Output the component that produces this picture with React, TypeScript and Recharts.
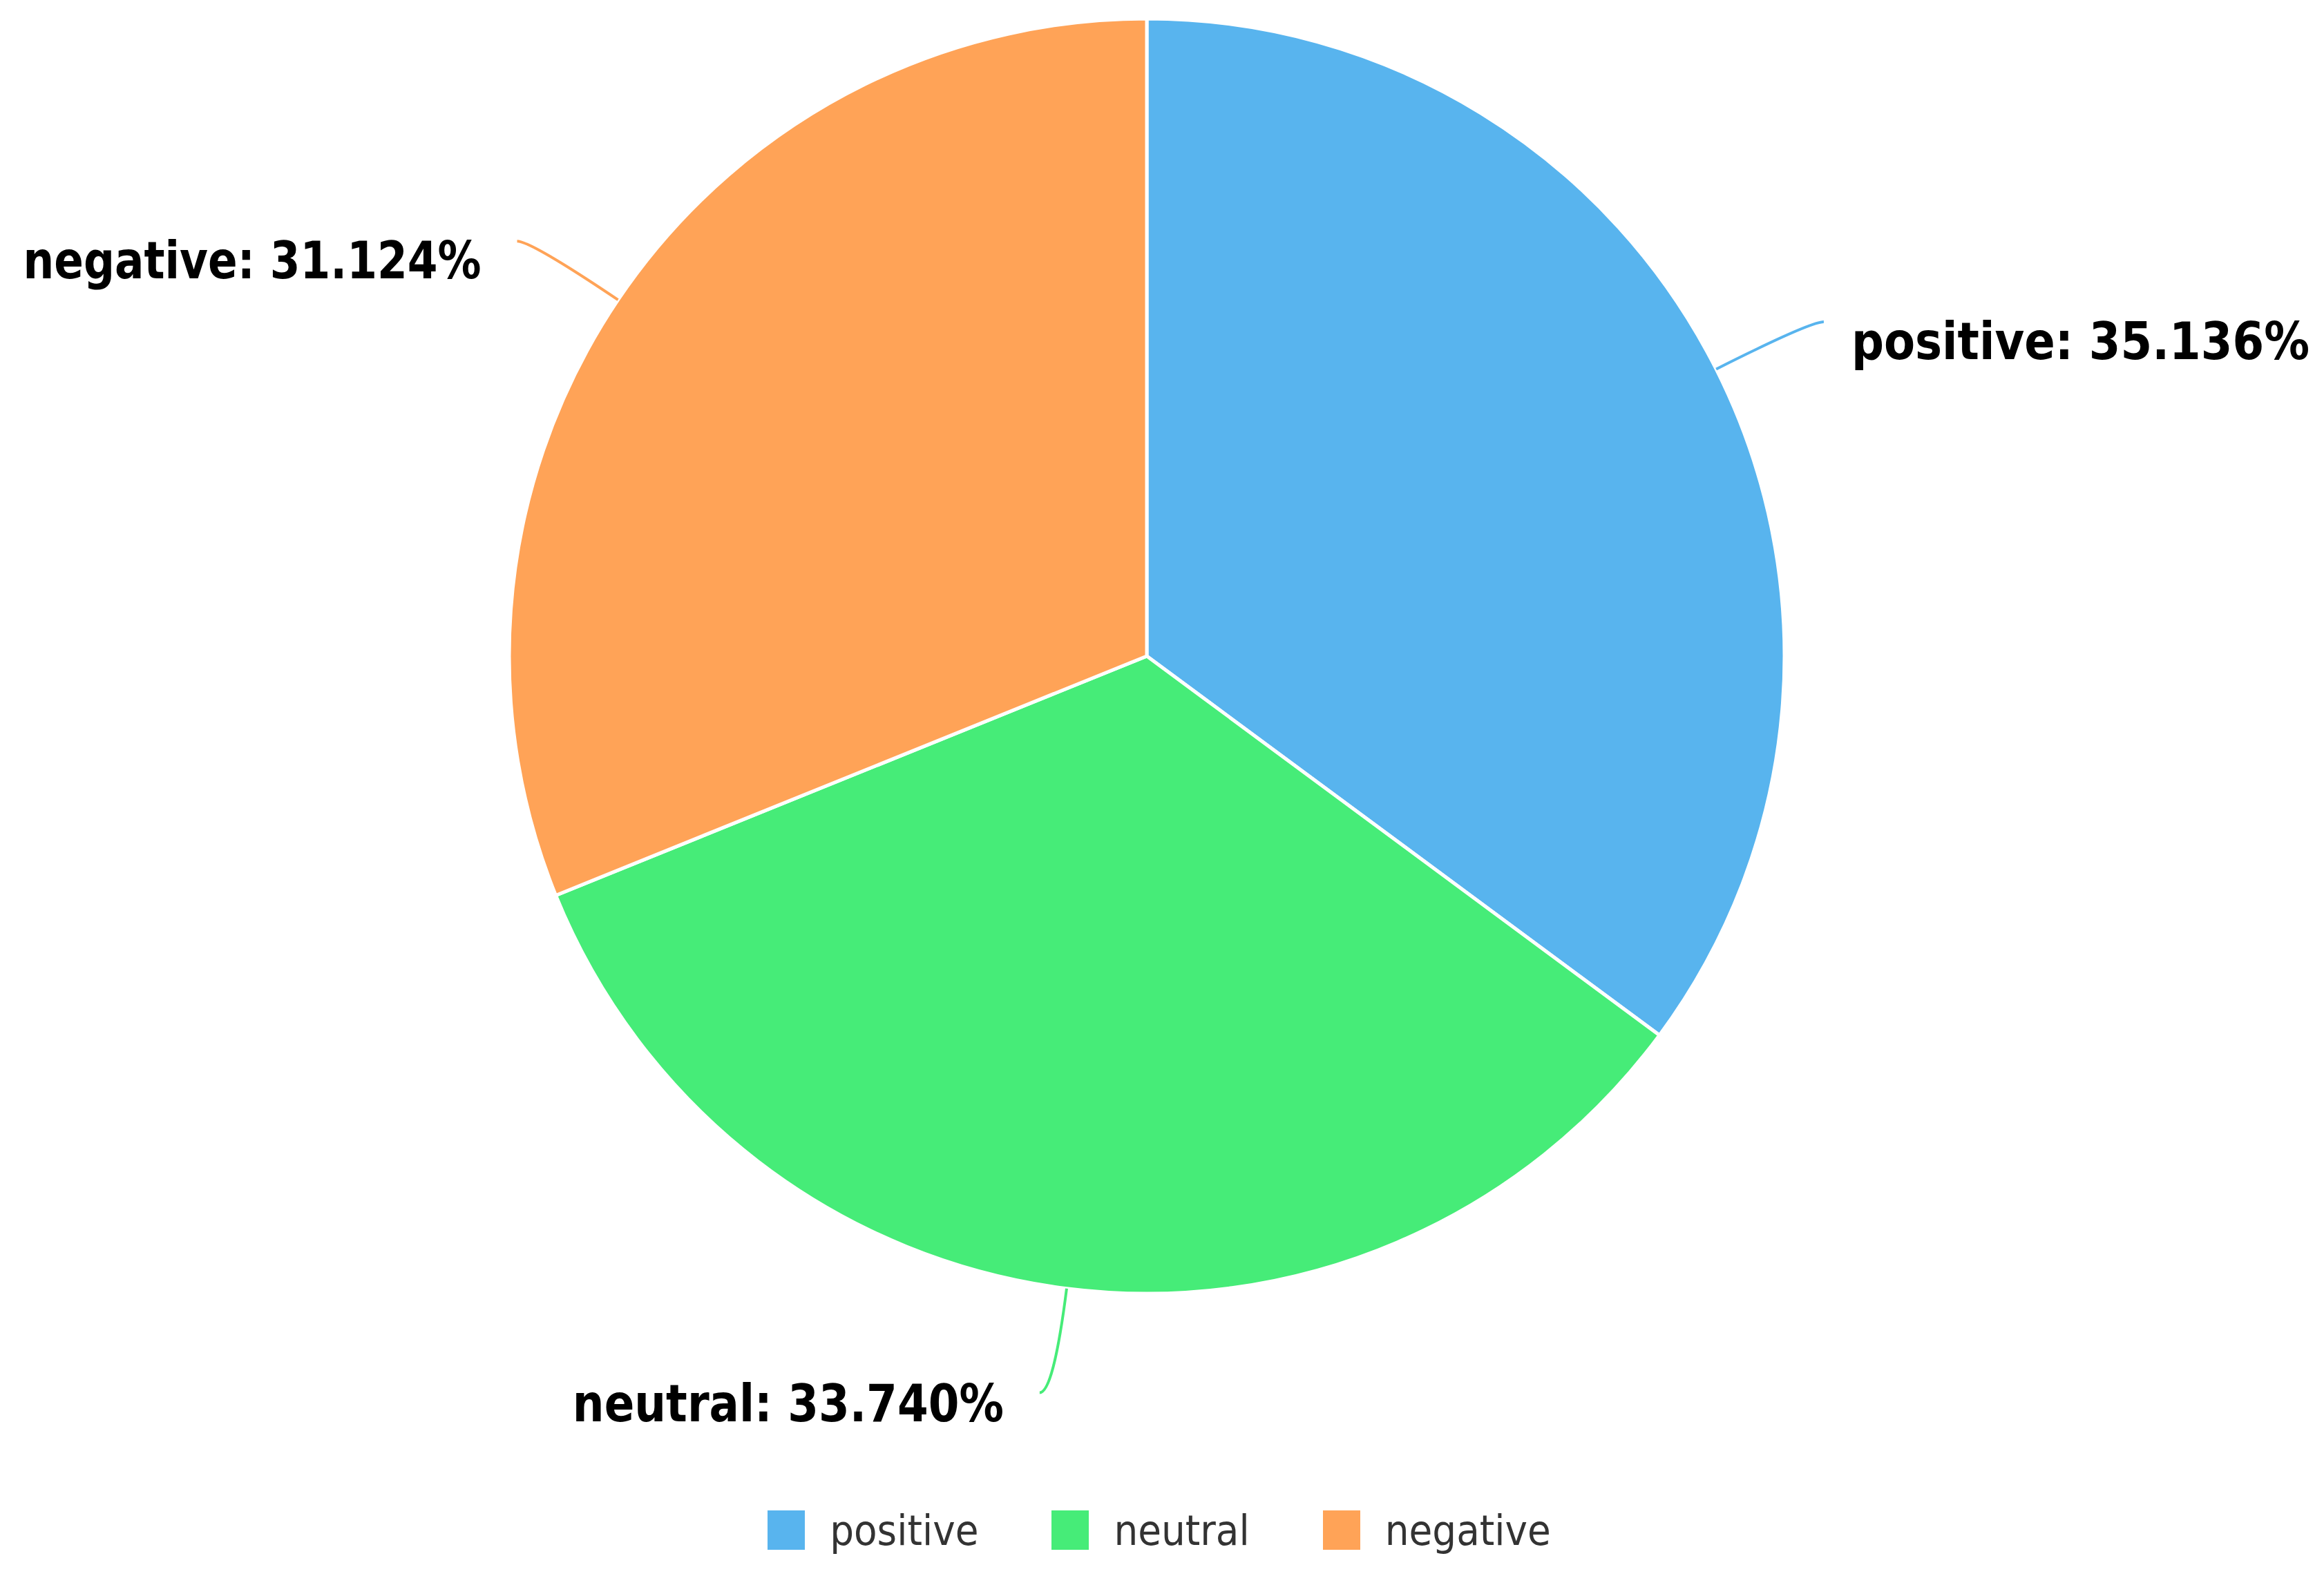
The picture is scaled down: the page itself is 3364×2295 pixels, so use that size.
import React from "react";
import { PieChart, Pie, Cell, Legend } from "recharts";

const categories = ["positive", "neutral", "negative"];
const shares = [35.136, 33.74, 31.124];
const colors = ["#58B4EE", "#46EC78", "#FFA357"];

const data = categories.map((name, i) => ({ name, value: shares[i] }));

const RADIAN = Math.PI / 180;
const LABEL_FONT = "'DejaVu Sans Condensed', 'Open Sans', sans-serif";

function renderLabel(props: any) {
  const { cx, cy, midAngle, outerRadius, name, value, index } = props;
  const cos = Math.cos(-midAngle * RADIAN);
  const sin = Math.sin(-midAngle * RADIAN);
  const sx = cx + outerRadius * cos;
  const sy = cy + outerRadius * sin;
  const ex = cx + (outerRadius + 152) * cos;
  const ey = cy + (outerRadius + 152) * sin;
  const side = cos >= 0 ? 1 : -1;
  const tx = ex + side * 20;
  const text = `${name}: ${Number(value).toFixed(3)}%`;
  return (
    <g key={`lbl-${index}`}>
      <path
        d={`M${sx},${sy} Q${ex},${ey} ${tx},${ey}`}
        stroke={colors[index]}
        strokeWidth={4}
        fill="none"
      />
      <text
        x={ex + side * (side > 0 ? 60 : 72)}
        y={ey + (sin > 0.9 ? 16 : 28)}
        textAnchor={side > 0 ? "start" : "end"}
        dominantBaseline="central"
        fontFamily={LABEL_FONT}
        fontWeight="bold"
        fontSize={74}
        fill="#000"
        textLength={text.length * 39}
        lengthAdjust="spacingAndGlyphs"
      >
        {text}
      </text>
    </g>
  );
}

function LegendContent() {
  return (
    <div
      style={{
        display: "flex",
        justifyContent: "center",
        alignItems: "center",
        fontFamily: LABEL_FONT,
        fontSize: 61,
        color: "#333",
      }}
    >
      {categories.map((c, i) => (
        <div
          key={c}
          style={{ display: "flex", alignItems: "center", marginRight: i < categories.length - 1 ? 106 : 0 }}
        >
          <span style={{ width: 54, height: 57, background: colors[i], marginRight: 36, display: "inline-block" }} />
          <span>{c}</span>
        </div>
      ))}
    </div>
  );
}

export default function App() {
  return (
    <div style={{ position: "absolute", left: 0, top: 0, background: "#fff" }}>
      <PieChart width={3364} height={2295} margin={{ top: 0, right: 0, bottom: 0, left: 0 }}>
        <Pie
          data={data}
          dataKey="value"
          nameKey="name"
          cx={1660}
          cy={950}
          outerRadius={923}
          startAngle={90}
          endAngle={-270}
          stroke="#fff"
          strokeWidth={5}
          label={renderLabel}
          labelLine={false}
          isAnimationActive={false}
        >
          {data.map((d, i) => (
            <Cell key={d.name} fill={colors[i]} />
          ))}
        </Pie>
        <Legend
          content={<LegendContent />}
          wrapperStyle={{ position: "absolute", top: 2180, left: -4, width: 3364 }}
        />
      </PieChart>
    </div>
  );
}
